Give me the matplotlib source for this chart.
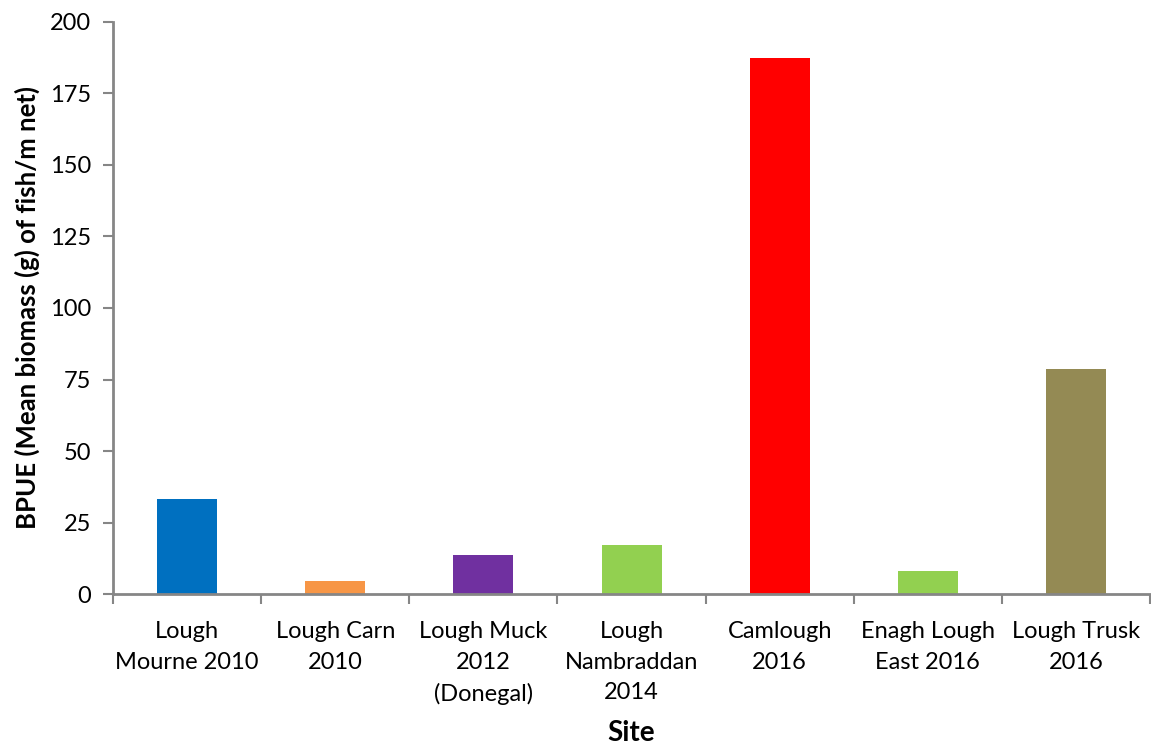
import matplotlib.pyplot as plt
import numpy as np

sites = ['Lough\nMourne 2010', 'Lough Carn\n2010', 'Lough Muck\n2012\n(Donegal)',
         'Lough\nNambraddan\n2014', 'Camlough\n2016', 'Enagh Lough\nEast 2016',
         'Lough Trusk\n2016']
bpue = [33.3, 4.6, 13.7, 17.2, 187.3, 8.3, 78.7]
colors = ['#0070C0', '#F79646', '#7030A0', '#92D050', '#FF0000', '#92D050', '#948A54']

plt.rcParams['font.family'] = ['Lato', 'DejaVu Sans']

fig = plt.figure(figsize=(11.51, 7.47), dpi=100)
ax = fig.add_axes([0.0982, 0.2044, 0.9010, 0.7668])

x = np.arange(len(sites))
ax.bar(x, bpue, width=0.405, color=colors, zorder=2)

ax.set_xlim(-0.5, len(sites) - 0.5)
ax.set_ylim(0, 200)
ax.set_yticks(np.arange(0, 201, 25))

# category labels centred under bars, tick marks on the boundaries
ax.set_xticks(x)
ax.set_xticklabels(sites, fontsize=17, linespacing=1.58)
ax.tick_params(axis='x', which='major', length=0, pad=19)
ax.set_xticks(np.arange(-0.5, len(sites)), minor=True)
ax.tick_params(axis='x', which='minor', length=7, width=1.5, color='#868686', direction='out')
ax.tick_params(axis='y', length=7, width=1.5, color='#868686', labelsize=17, pad=9)

for side in ['top', 'right']:
    ax.spines[side].set_visible(False)
for side in ['left', 'bottom']:
    ax.spines[side].set_color('#868686')
    ax.spines[side].set_linewidth(2)

ax.set_ylabel('BPUE (Mean biomass (g) of fish/m net)', fontsize=18.5, fontweight='bold', labelpad=7)
ax.set_xlabel('Site', fontsize=20, fontweight='bold', labelpad=11)

plt.savefig('out.png', dpi=100)
